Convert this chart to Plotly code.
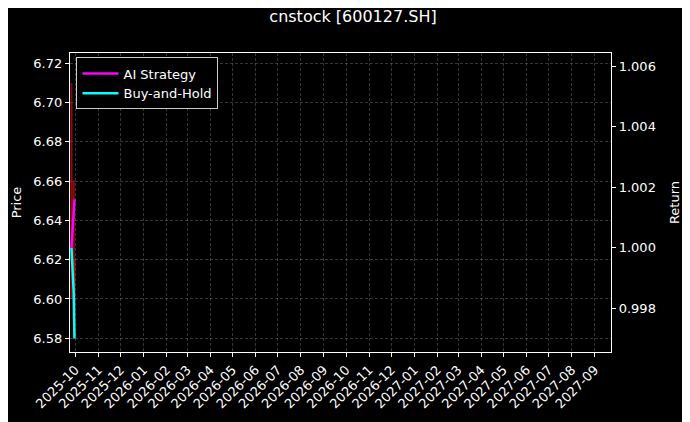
import plotly.graph_objects as go

# ── data ──────────────────────────────────────────────────────────────────────
dates      = ["2025-09-26", "2025-09-29", "2025-09-30"]
open_px    = [6.70, 6.66, 6.62]
high_px    = [6.71, 6.66, 6.62]
low_px     = [6.60, 6.59, 6.58]
close_px   = [6.62, 6.60, 6.59]

ai_return  = [1.0000, 1.0016, 1.0016]
bh_return  = [1.0000, 0.9985, 0.9970]

month_ticks = [f"{y}-{m:02d}-01" for y, m in
               [(2025, 10), (2025, 11), (2025, 12)]
               + [(2026, m) for m in range(1, 13)]
               + [(2027, m) for m in range(1, 10)]]
price_ticks  = [6.58, 6.60, 6.62, 6.64, 6.66, 6.68, 6.70, 6.72]
return_ticks = [0.998, 1.000, 1.002, 1.004, 1.006]

FONT = "DejaVu Sans"
GRID = "rgba(140,140,140,0.38)"

fig = go.Figure()

# candles, each drawn alone so overlaps blend like the original
for i in range(len(dates)):
    up = close_px[i] >= open_px[i]
    col = "rgba(0,200,0,0.5)" if up else "rgba(240,20,20,0.5)"
    fig.add_trace(go.Candlestick(
        x=[dates[i]], open=[open_px[i]], high=[high_px[i]],
        low=[low_px[i]], close=[close_px[i]],
        increasing=dict(line=dict(color=col, width=2), fillcolor=col),
        decreasing=dict(line=dict(color=col, width=2), fillcolor=col),
        showlegend=False, hoverinfo="skip",
    ))

fig.add_trace(go.Scatter(
    x=dates, y=ai_return, name="AI Strategy", mode="lines",
    line=dict(color="#ff00ff", width=2.5), yaxis="y2",
))
fig.add_trace(go.Scatter(
    x=dates, y=bh_return, name="Buy-and-Hold", mode="lines",
    line=dict(color="#00ffff", width=2.5), yaxis="y2",
))

fig.update_layout(
    width=690, height=422,
    paper_bgcolor="black", plot_bgcolor="black",
    font=dict(family=FONT, size=13, color="white"),
    title=dict(text="cnstock [600127.SH]", x=0.5, xanchor="center",
               yref="container", y=0.979, yanchor="middle",
               font=dict(size=16), automargin=False),
    margin=dict(l=62, r=87, t=45, b=78, autoexpand=False),
    showlegend=True,
    legend=dict(x=0.012, y=0.985, xanchor="left", yanchor="top",
                bgcolor="black", bordercolor="rgba(255,255,255,0.8)",
                borderwidth=1, font=dict(size=13),
                tracegroupgap=0, itemwidth=36),
    xaxis=dict(
        type="date", range=["2025-09-24", "2027-09-23"],
        tickvals=month_ticks, tickformat="%Y-%m", tickangle=-45,
        showgrid=True, gridcolor=GRID, griddash="3px,2px", gridwidth=0.5,
        showline=True, linecolor="white", linewidth=1.2, mirror=True,
        ticks="outside", ticklen=4, tickcolor="white", automargin=False,
        rangeslider=dict(visible=False), zeroline=False,
    ),
    yaxis=dict(
        title=dict(text="Price", standoff=8, font=dict(size=13)),
        range=[6.573, 6.7253], tickvals=price_ticks, tickformat=".2f",
        showgrid=True, gridcolor=GRID, griddash="3px,2px", gridwidth=0.5,
        showline=True, linecolor="white", linewidth=1.2, mirror=True,
        ticks="outside", ticklen=4, tickcolor="white", zeroline=False,
        automargin=False,
    ),
    yaxis2=dict(
        title=dict(text="Return", standoff=14, font=dict(size=13)),
        overlaying="y", side="right",
        range=[0.99655, 1.00644], tickvals=return_ticks, tickformat=".3f",
        showgrid=False, showline=True, linecolor="white", linewidth=1.2,
        ticks="outside", ticklen=4, tickcolor="white", zeroline=False,
        automargin=False,
    ),
)

fig.write_html("out.html")
